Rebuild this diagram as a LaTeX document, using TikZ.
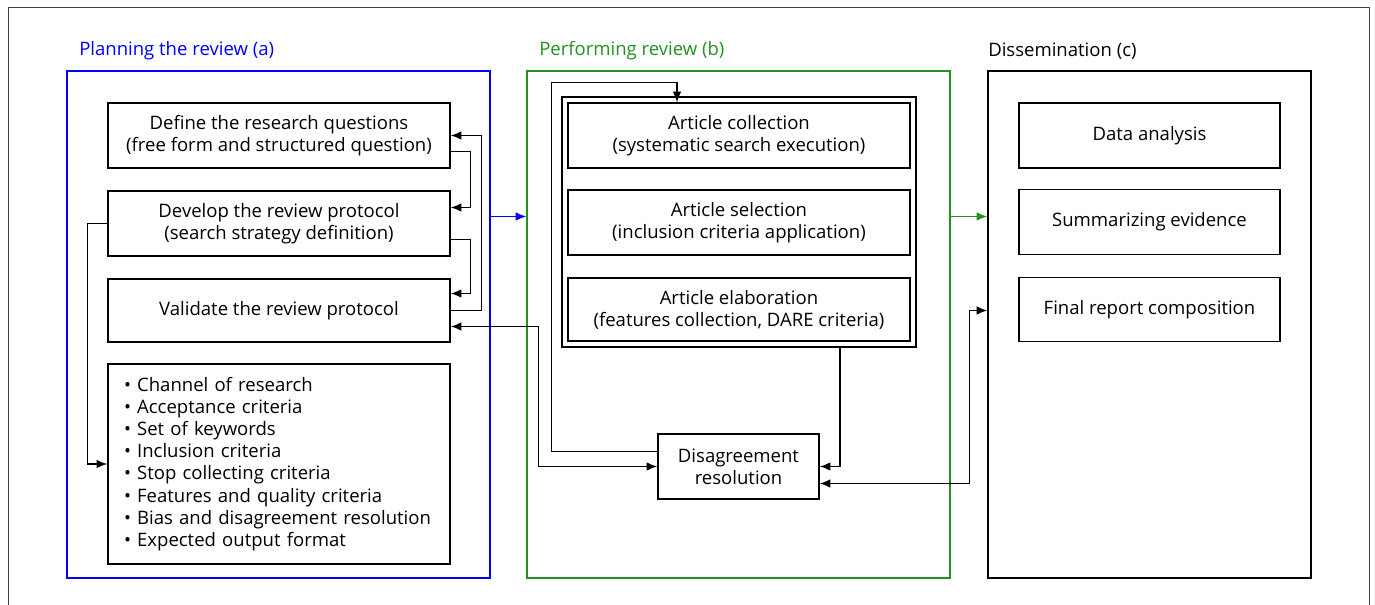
\documentclass[tikz,border=0pt]{standalone}
\usepackage{fontspec}
\setmainfont{Open Sans}
\usetikzlibrary{arrows.meta,positioning,calc,fit}
\definecolor{panelgreen}{RGB}{34,145,34}
\tikzset{
  flowarr/.style={-{Latex[length=8pt,width=6.5pt]}, line width=1pt},
  flowbiarr/.style={{Latex[length=8pt,width=6.5pt]}-{Latex[length=8pt,width=6.5pt]}, line width=1pt},
  stagebox/.style={draw, line width=1.2pt, align=center, inner sep=3pt},
}
\begin{document}
\begin{tikzpicture}[
  x=0.75pt, y=-0.75pt,
  font=\fontsize{13.9}{16.6}\selectfont,
  panel/.style={draw, line width=1.1pt, minimum width=317.25pt, minimum height=380.25pt},
  bx/.style={stagebox, minimum width=256.5pt, minimum height=48.75pt},
  cbx/.style={stagebox, minimum width=195.75pt, minimum height=48.75pt},
  ttl/.style={anchor=west, inner sep=0pt},
]
  \useasboundingbox (0,0) rectangle (1375,605);
  \draw[line width=0.7pt, draw=black!75] (8,605) -- (8,7) -- (1369,7) -- (1369,605);

  \node[panel, draw=blue] (pa) at (278.5,324.5) {};
  \node[panel, draw=panelgreen] (pb) at (738.5,324.5) {};
  \node[panel, minimum width=242.25pt] (pc) at (1149.5,324.5) {};
  \node[ttl, text=blue] at (79,51) {Planning the review (a)};
  \node[ttl, text=panelgreen] at (539,51) {Performing review (b)};
  \node[ttl] at (988,51) {Dissemination (c)};

  \node[bx] (q) at (279,135.5) {Define the research questions\\(free form and structured question)};
  \node[bx] (p) at (279,223.5) {Develop the review protocol\\(search strategy definition)};
  \node[bx, minimum height=47.25pt] (v) at (279,310.5) {Validate the review protocol};
  \node[stagebox, align=left, text width=232.5pt, inner xsep=12pt, minimum height=150pt] (l) at (279,464) {%
    \textbullet{} Channel of research\\
    \textbullet{} Acceptance criteria\\
    \textbullet{} Set of keywords\\
    \textbullet{} Inclusion criteria\\
    \textbullet{} Stop collecting criteria\\
    \textbullet{} Features and quality criteria\\
    \textbullet{} Bias and disagreement resolution\\
    \textbullet{} Expected output format};

  \node[bx] (coll) at (739,135.5) {Article collection\\(systematic search execution)};
  \node[bx] (sel) at (739,222.5) {Article selection\\(inclusion criteria application)};
  \node[bx, minimum height=47.25pt] (elab) at (739,309.5) {Article elaboration\\(features collection, DARE criteria)};
  \node[draw, line width=1.2pt, inner sep=4pt, fit=(coll) (elab)] (frame) {};
  \node[stagebox, minimum width=120.75pt, minimum height=48.75pt] (dis) at (738.5,466.5) {Disagreement\\resolution};

  \node[cbx] (da) at (1149.5,135.5) {Data analysis};
  \node[cbx] (se) at (1149.5,222) {Summarizing evidence};
  \node[cbx, minimum height=48pt] (fr) at (1149.5,309.5) {Final report composition};

  \draw[flowarr] (v.east) -- ++(31,0) |- (q.east);
  \draw[flowarr] ($(q.east)+(0,16)$) -- ++(20,0) |- ($(p.east)+(0,-16)$);
  \draw[flowarr] ($(p.east)+(0,16)$) -- ++(20,0) |- ($(v.east)+(0,-17)$);
  \draw[flowarr] (p.west) -- ++(-20,0) |- (l.west);
  \draw[flowbiarr] ($(v.east)+(0,16)$) -| ($(dis.west)+(-119,0)$) -- (dis.west);
  \draw[flowarr] ($(dis.west)+(0,-15)$) -- ++(-106,0) |- ($(coll.north)+(-62,-20)$) -- ($(coll.north)+(-62,0)$);
  \draw[flowarr] ($(frame.south)+(101,0)$) |- (dis.east);
  \draw[flowbiarr] ($(dis.east)+(0,17)$) -- ++(150,0) |- ($(pc.west)+(0,-14)$);
  \draw[flowarr, draw=blue, fill=blue] ($(pa.east)+(0,-108)$) -- ($(pb.west)+(0,-108)$);
  \draw[flowarr, draw=panelgreen, fill=panelgreen] ($(pb.east)+(0,-108)$) -- ($(pc.west)+(0,-108)$);
\end{tikzpicture}
\end{document}
